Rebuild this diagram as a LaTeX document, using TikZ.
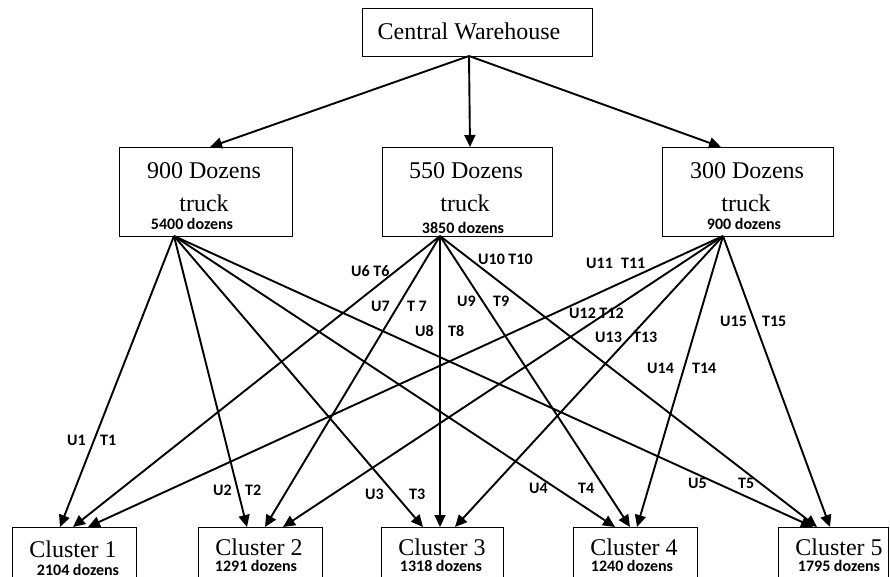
\documentclass[tikz,border=0pt]{standalone}
\usepackage{fontspec}
\setmainfont{Liberation Serif}
\newfontfamily\lblfont{Carlito}
\usetikzlibrary{arrows.meta,calc}
\begin{document}
\begin{tikzpicture}[x=1pt,y=-1pt,
  box/.style={draw,line width=0.9pt,inner sep=0pt,anchor=north west},
  big/.style={font=\fontsize{24}{28}\selectfont,inner sep=0pt,anchor=base},
  small/.style={font=\lblfont\bfseries\fontsize{16}{18}\selectfont,inner sep=0pt,anchor=base},
  lbl/.style={font=\lblfont\bfseries\fontsize{16}{18}\selectfont,inner sep=0pt,anchor=west},
  arr/.style={line width=1.9pt,-{Triangle[length=12pt,width=11pt]}},
]
\useasboundingbox (0,0) rectangle (890,576);
\clip (0,0) rectangle (890,576);

% Central warehouse
\node[box,minimum width=230pt,minimum height=48pt] (cw) at (362,8) {};
\node[big] (cwt) at (469,39) {Central Warehouse};

% trucks
\node[box,minimum width=173pt,minimum height=89pt] (t1) at (119,147) {};
\node[big] (t1a) at (204,178) {900 Dozens};
\node[big] (t1b) at (204,211) {truck};
\node[small] (t1c) at (192,229) {5400 dozens};

\node[box,minimum width=170pt,minimum height=89pt] (t2) at (382,147) {};
\node[big] (t2a) at (466,178) {550 Dozens};
\node[big] (t2b) at (465,211) {truck};
\node[small] (t2c) at (463,233) {3850 dozens};

\node[box,minimum width=171pt,minimum height=89pt] (t3) at (662,147) {};
\node[big] (t3a) at (747,178) {300 Dozens};
\node[big] (t3b) at (746,211) {truck};
\node[small] (t3c) at (744,229) {900 dozens};

% clusters
\node[box,minimum width=124pt,minimum height=70pt] (c1) at (12,527) {};
\node[big] (c1a) at (73,557) {Cluster 1};
\node[small] (c1b) at (78,575) {2104 dozens};

\node[box,minimum width=124pt,minimum height=70pt] (c2) at (198,527) {};
\node[big] (c2a) at (259,555) {Cluster 2};
\node[small] (c2b) at (256,571) {1291 dozens};

\node[box,minimum width=122pt,minimum height=70pt] (c3) at (381,527) {};
\node[big] (c3a) at (442,555) {Cluster 3};
\node[small] (c3b) at (441,571) {1318 dozens};

\node[box,minimum width=124pt,minimum height=70pt] (c4) at (573,527) {};
\node[big] (c4a) at (634,555) {Cluster 4};
\node[small] (c4b) at (632,571) {1240 dozens};

\node[box,minimum width=110pt,minimum height=70pt] (c5) at (778,527) {};
\node[big] (c5a) at (839,555) {Cluster 5};
\node[small] (c5b) at (839,571) {1795 dozens};

% connector end points
\coordinate (cwo) at (469,56);
\coordinate (t1i) at (210,147);
\coordinate (t2i) at (470,147);
\coordinate (t3i) at (721,147);
\coordinate (o1) at (174,236);
\coordinate (o2) at (440,236);
\coordinate (o3) at (723,236);

\coordinate (c1x) at (60,527);  \coordinate (c1y) at (73,527);  \coordinate (c1z) at (88,527);
\coordinate (c2x) at (247,527); \coordinate (c2y) at (265,527); \coordinate (c2z) at (283,527);
\coordinate (c3x) at (423,527); \coordinate (c3y) at (440,527); \coordinate (c3z) at (455,527);
\coordinate (c4x) at (615,527); \coordinate (c4y) at (630,527); \coordinate (c4z) at (637,527);
\coordinate (c5x) at (813,527); \coordinate (c5y) at (817,527); \coordinate (c5z) at (830,527);

% top arrows
\draw[arr] (cwo) -- (t1i);
\draw[arr] (cwo) -- (t2i);
\draw[arr] (cwo) -- (t3i);

% truck 1
\draw[arr] (o1) -- (c1x);
\draw[arr] (o1) -- (c2x);
\draw[arr] (o1) -- (c3x);
\draw[arr] (o1) -- (c4x);
\draw[arr] (o1) -- (c5x);
% truck 2
\draw[arr] (o2) -- (c1y);
\draw[arr] (o2) -- (c2y);
\draw[arr] (o2) -- (c3y);
\draw[arr] (o2) -- (c4y);
\draw[arr] (o2) -- (c5y);
% truck 3
\draw[arr] (o3) -- (c1z);
\draw[arr] (o3) -- (c2z);
\draw[arr] (o3) -- (c3z);
\draw[arr] (o3) -- (c4z);
\draw[arr] (o3) -- (c5z);

% labels
\node[lbl] (u1) at (67,440) {U1};   \node[lbl] (tt1) at (100,440) {T1};
\node[lbl] (u2) at (213,490) {U2};  \node[lbl] (tt2) at (245,490) {T2};
\node[lbl] (u3) at (365,494) {U3};  \node[lbl] (tt3) at (409,494) {T3};
\node[lbl] (u4) at (529,488) {U4};  \node[lbl] (tt4) at (578,488) {T4};
\node[lbl] (u5) at (688,483) {U5};  \node[lbl] (tt5) at (738,483) {T5};
\node[lbl] (u6) at (351,271) {U6 T6};
\node[lbl] (u7) at (371,306) {U7};  \node[lbl] (tt7) at (407,306) {T 7};
\node[lbl] (u8) at (415,331) {U8};  \node[lbl] (tt8) at (448,331) {T8};
\node[lbl] (u9) at (457,301) {U9};  \node[lbl] (tt9) at (493,301) {T9};
\node[lbl] (u10) at (478,259) {U10 T10};
\node[lbl] (u11) at (586,263) {U11};  \node[lbl] (tt11) at (621,263) {T11};
\node[lbl] (u12) at (569,313) {U12 T12};
\node[lbl] (u13) at (595,337) {U13};  \node[lbl] (tt13) at (633,337) {T13};
\node[lbl] (u14) at (647,368) {U14};  \node[lbl] (tt14) at (692,368) {T14};
\node[lbl] (u15) at (720,321) {U15};  \node[lbl] (tt15) at (762,321) {T15};
\end{tikzpicture}
\end{document}
